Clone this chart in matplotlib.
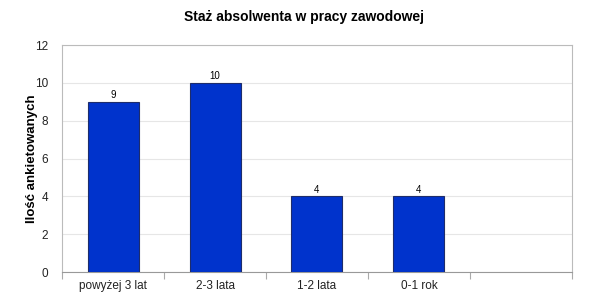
import matplotlib.pyplot as plt
import numpy as np

plt.rcParams["font.family"] = ["Liberation Sans", "DejaVu Sans"]

categories = ["powyżej 3 lat", "2-3 lata", "1-2 lata", "0-1 rok", ""]
values = [9, 10, 4, 4, None]

fig = plt.figure(figsize=(6.09, 3.0), dpi=100)
ax = fig.add_axes([0.102, 0.093, 0.837, 0.757])

x = np.arange(len(categories))
shown = [i for i, v in enumerate(values) if v is not None]
bars = ax.bar([x[i] for i in shown], [values[i] for i in shown], width=0.5,
              color="#0033cc", edgecolor="#1e2d6b", linewidth=0.8, zorder=3)
for i in shown:
    ax.text(x[i], values[i] + 0.08, str(values[i]), ha="center", va="bottom",
            fontsize=7, color="black")

ax.set_xlim(-0.5, len(categories) - 0.5)
ax.set_ylim(0, 12)
ax.set_yticks(range(0, 13, 2))
ax.set_xticks(x)
ax.set_xticklabels(categories, fontsize=8.5, color="#222222")
ax.set_xticks(np.arange(-0.5, len(categories), 1), minor=True)
ax.tick_params(axis="x", which="major", length=0, pad=6)
ax.tick_params(axis="x", which="minor", length=5, color="#aaaaaa", width=0.8)
ax.tick_params(axis="y", length=0, labelsize=8.5, pad=10, labelcolor="#222222")
ax.grid(axis="y", color="#e6e6e6", linewidth=0.8, zorder=0)
for s in ax.spines.values():
    s.set_color("#bbbbbb")
    s.set_linewidth(0.8)
ax.spines["bottom"].set_color("#999999")

ax.set_ylabel("Ilość ankietowanych", fontsize=9.5, fontweight="bold")
ax.yaxis.set_label_coords(-0.048, 0.5)
fig.suptitle("Staż absolwenta w pracy zawodowej", fontsize=10, fontweight="bold",
             y=0.965)

fig.savefig("out.png", dpi=100)
